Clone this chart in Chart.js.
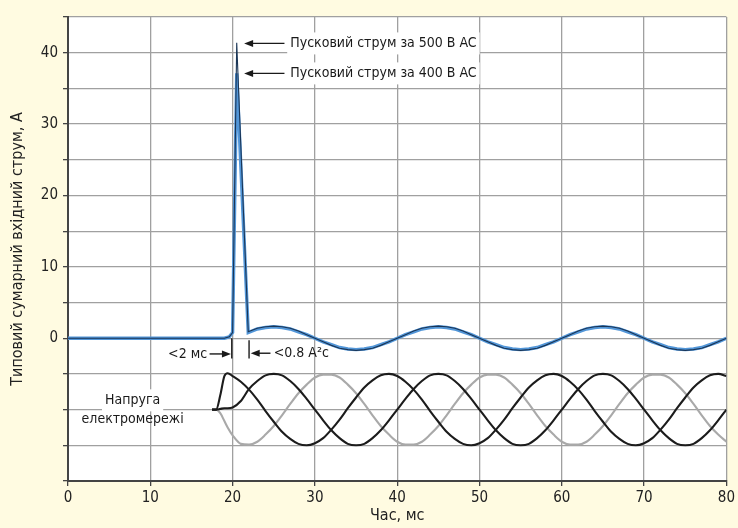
<!DOCTYPE html>
<html>
<head>
<meta charset="utf-8">
<script src="https://cdn.jsdelivr.net/npm/chart.js@4.4.0/dist/chart.umd.min.js"></script>
<style>
  html, body { margin: 0; padding: 0; background: #fffbe1; }
  canvas { display: block; }
</style>
</head>
<body>
<canvas id="inrush" width="738" height="528"></canvas>
<script>
// час, мс — для струму
var currentTime = [0, 19, 19.6, 20, 20.5, 21.9,
  23, 24, 25, 26, 27, 28, 29, 30, 31, 32, 33, 34, 35, 36, 37, 38, 39,
  40, 41, 42, 43, 44, 45, 46, 47, 48, 49, 50, 51, 52, 53, 54, 55, 56, 57, 58, 59,
  60, 61, 62, 63, 64, 65, 66, 67, 68, 69, 70, 71, 72, 73, 74, 75, 76, 77, 78, 79, 80];

// пусковий струм за 500 В AC, А
var current500 = [0, 0, 0.2, 0.8, 41.4, 0.9,
  1.4, 1.6, 1.7, 1.6, 1.4, 1.0, 0.5, 0, -0.5, -1.0, -1.4, -1.6, -1.7, -1.6, -1.4, -1.0, -0.5,
  0, 0.5, 1.0, 1.4, 1.6, 1.7, 1.6, 1.4, 1.0, 0.5, 0, -0.5, -1.0, -1.4, -1.6, -1.7, -1.6, -1.4, -1.0, -0.5,
  0, 0.5, 1.0, 1.4, 1.6, 1.7, 1.6, 1.4, 1.0, 0.5, 0, -0.5, -1.0, -1.4, -1.6, -1.7, -1.6, -1.4, -1.0, -0.5, 0];

// пусковий струм за 400 В AC, А
var current400 = [0, 0, 0.2, 0.8, 37.1, 0.8,
  1.3, 1.5, 1.6, 1.5, 1.3, 0.9, 0.5, 0, -0.5, -0.9, -1.3, -1.5, -1.6, -1.5, -1.3, -0.9, -0.5,
  0, 0.5, 0.9, 1.3, 1.5, 1.6, 1.5, 1.3, 0.9, 0.5, 0, -0.5, -0.9, -1.3, -1.5, -1.6, -1.5, -1.3, -0.9, -0.5,
  0, 0.5, 0.9, 1.3, 1.5, 1.6, 1.5, 1.3, 0.9, 0.5, 0, -0.5, -0.9, -1.3, -1.5, -1.6, -1.5, -1.3, -0.9, -0.5, 0];

// час, мс — для напруги електромережі
var voltTime = [17.5, 18, 18.5, 19, 19.4, 20,
  21, 22, 23, 24, 25, 26, 27, 28, 29, 30, 31, 32, 33, 34, 35, 36, 37, 38, 39,
  40, 41, 42, 43, 44, 45, 46, 47, 48, 49, 50, 51, 52, 53, 54, 55, 56, 57, 58, 59,
  60, 61, 62, 63, 64, 65, 66, 67, 68, 69, 70, 71, 72, 73, 74, 75, 76, 77, 78, 79, 80];

// три фази напруги (умовна шкала)
var phaseA = [-10, -10, -8.0, -5.3, -4.9, -5.3,
  -6.1, -7.2, -8.6, -10.2, -11.7, -13.1, -14.1, -14.8, -15.0, -14.7, -14.0, -12.8, -11.4, -9.8, -8.3, -6.9, -5.9, -5.2, -5.0,
  -5.3, -6.1, -7.2, -8.6, -10.2, -11.7, -13.1, -14.1, -14.8, -15.0, -14.7, -14.0, -12.8, -11.4, -9.8, -8.3, -6.9, -5.9, -5.2, -5.0,
  -5.3, -6.1, -7.2, -8.6, -10.2, -11.7, -13.1, -14.1, -14.8, -15.0, -14.7, -14.0, -12.8, -11.4, -9.8, -8.3, -6.9, -5.9, -5.2, -5.0,
  -5.3];

var phaseB = [-10, -10, -9.9, -9.8, -9.8, -9.7,
  -8.8, -7.1, -6.0, -5.2, -5.0, -5.2, -6.0, -7.1, -8.5, -10.0, -11.5, -12.9, -14.0, -14.8, -15.0, -14.8, -14.0, -12.9, -11.5,
  -10.0, -8.5, -7.1, -6.0, -5.2, -5.0, -5.2, -6.0, -7.1, -8.5, -10.0, -11.5, -12.9, -14.0, -14.8, -15.0, -14.8, -14.0, -12.9, -11.5,
  -10.0, -8.5, -7.1, -6.0, -5.2, -5.0, -5.2, -6.0, -7.1, -8.5, -10.0, -11.5, -12.9, -14.0, -14.8, -15.0, -14.8, -14.0, -12.9, -11.5,
  -10.0];

var phaseC = [-10, -10, -10.5, -11.6, -12.5, -13.6,
  -14.8, -14.9, -14.5, -13.5, -12.3, -10.8, -9.2, -7.7, -6.5, -5.5, -5.1, -5.1, -5.5, -6.5, -7.7, -9.2, -10.8, -12.3, -13.5,
  -14.5, -14.9, -14.9, -14.5, -13.5, -12.3, -10.8, -9.2, -7.7, -6.5, -5.5, -5.1, -5.1, -5.5, -6.5, -7.7, -9.2, -10.8, -12.3, -13.5,
  -14.5, -14.9, -14.9, -14.5, -13.5, -12.3, -10.8, -9.2, -7.7, -6.5, -5.5, -5.1, -5.1, -5.5, -6.5, -7.7, -9.2, -10.8, -12.3, -13.5,
  -14.5];

var yLabels = [0, 10, 20, 30, 40];

var FONT = '"Liberation Sans Narrow", "DejaVu Sans Condensed", "Roboto Condensed", "Liberation Sans", Arial, sans-serif';

function pts(xs, ys) {
  return xs.map(function (t, i) { return { x: t, y: ys[i] }; });
}

// жовтий фон і біла область графіка
var bgPlugin = {
  id: 'bg',
  beforeDraw: function (chart) {
    var c = chart.ctx, a = chart.chartArea;
    c.save();
    c.fillStyle = '#fffbe1';
    c.fillRect(0, 0, chart.width, chart.height);
    c.fillStyle = '#ffffff';
    c.fillRect(a.left, a.top, a.right - a.left, a.bottom - a.top);
    c.restore();
  }
};

function arrow(c, x1, y1, x2, y2) {
  var dir = x2 > x1 ? 1 : -1;
  c.beginPath();
  c.moveTo(x1, y1);
  c.lineTo(x2 - dir * 6, y2);
  c.stroke();
  c.beginPath();
  c.moveTo(x2, y2);
  c.lineTo(x2 - dir * 9, y2 - 3.5);
  c.lineTo(x2 - dir * 9, y2 + 3.5);
  c.closePath();
  c.fill();
}

function boxedText(c, txt, x, y, align) {
  var w = c.measureText(txt).width;
  var left = align === 'right' ? x - w : (align === 'center' ? x - w / 2 : x);
  c.fillStyle = '#ffffff';
  c.fillRect(left - 3, y - 11, w + 6, 22);
  c.fillStyle = '#1a1a1a';
  c.textAlign = align;
  c.fillText(txt, x, y);
}

// підписи та стрілки
var notesPlugin = {
  id: 'notes',
  afterDatasetsDraw: function (chart) {
    var c = chart.ctx, X = chart.scales.x, Y = chart.scales.y;
    c.save();
    c.strokeStyle = '#1a1a1a';
    c.fillStyle = '#1a1a1a';
    c.lineWidth = 1.4;
    c.font = '14px ' + FONT;
    c.textBaseline = 'middle';

    boxedText(c, 'Пусковий струм за 500 В AC', X.getPixelForValue(27.0), Y.getPixelForValue(41.3), 'left');
    boxedText(c, 'Пусковий струм за 400 В AC', X.getPixelForValue(27.0), Y.getPixelForValue(37.1), 'left');
    c.fillStyle = '#1a1a1a';
    arrow(c, X.getPixelForValue(26.3), Y.getPixelForValue(41.3), X.getPixelForValue(21.4), Y.getPixelForValue(41.3));
    arrow(c, X.getPixelForValue(26.3), Y.getPixelForValue(37.1), X.getPixelForValue(21.4), Y.getPixelForValue(37.1));

    // < 2 мс
    c.beginPath();
    c.moveTo(X.getPixelForValue(19.9), Y.getPixelForValue(0));
    c.lineTo(X.getPixelForValue(19.9), Y.getPixelForValue(-2.85));
    c.stroke();
    arrow(c, X.getPixelForValue(17.2), Y.getPixelForValue(-2.2), X.getPixelForValue(19.8), Y.getPixelForValue(-2.2));
    c.textAlign = 'right';
    c.fillText('<2 мс', X.getPixelForValue(16.9), Y.getPixelForValue(-2.2));

    // < 0.8 A²c
    c.beginPath();
    c.moveTo(X.getPixelForValue(22.0), Y.getPixelForValue(-0.3));
    c.lineTo(X.getPixelForValue(22.0), Y.getPixelForValue(-2.85));
    c.stroke();
    arrow(c, X.getPixelForValue(24.6), Y.getPixelForValue(-2.1), X.getPixelForValue(22.2), Y.getPixelForValue(-2.1));
    c.textAlign = 'left';
    c.fillText('<0.8 A²c', X.getPixelForValue(25.0), Y.getPixelForValue(-2.1));

    // Напруга електромережі
    boxedText(c, 'Напруга', X.getPixelForValue(7.85), Y.getPixelForValue(-8.7), 'center');
    c.fillStyle = '#1a1a1a';
    c.textAlign = 'center';
    c.fillText('електромережі', X.getPixelForValue(7.85), Y.getPixelForValue(-11.3));
    c.restore();
  }
};

var ctx = document.getElementById("inrush");
var chart = new Chart(ctx, {
  type: 'line',
  data: {
    datasets: [
      { label: '500 В AC', data: pts(currentTime, current500), borderColor: '#1a3556', borderWidth: 1.1, pointRadius: 0, tension: 0 },
      { label: '400 В AC', data: pts(currentTime, current400), borderColor: '#5296d8', borderWidth: 3.4, pointRadius: 0, tension: 0 },
      { label: 'L1', data: pts(voltTime, phaseA), borderColor: '#1c1c1c', borderWidth: 2.1, pointRadius: 0, cubicInterpolationMode: 'monotone' },
      { label: 'L2', data: pts(voltTime, phaseB), borderColor: '#1c1c1c', borderWidth: 2.1, pointRadius: 0, cubicInterpolationMode: 'monotone' },
      { label: 'L3', data: pts(voltTime, phaseC), borderColor: '#a9a9a9', borderWidth: 2.1, pointRadius: 0, cubicInterpolationMode: 'monotone' }
    ]
  },
  options: {
    responsive: false,
    animation: false,
    layout: { padding: { top: 17, right: 8, left: 0, bottom: 0 } },
    plugins: {
      legend: { display: false },
      tooltip: { enabled: false }
    },
    scales: {
      x: {
        type: 'linear', min: 0, max: 80,
        ticks: { stepSize: 10, color: '#222', font: { family: FONT, size: 15 }, padding: 3, maxRotation: 0 },
        grid: { color: '#a0a0a0', lineWidth: 1.3, tickColor: '#444', tickLength: 5 },
        border: { color: '#444', width: 2 },
        title: { display: true, text: 'Час, мс', color: '#222', font: { family: FONT, size: 16 }, padding: { top: 0, bottom: 3 } },
        afterFit: function (s) { s.height = 47; }
      },
      y: {
        min: -20, max: 45,
        ticks: {
          stepSize: 5, color: '#222', font: { family: FONT, size: 15 }, padding: 5,
          callback: function (v) { return yLabels.indexOf(v) >= 0 ? v : ''; }
        },
        grid: { color: '#a0a0a0', lineWidth: 1.3, tickColor: '#444', tickLength: 5 },
        border: { color: '#444', width: 2 },
        title: { display: true, text: 'Типовий сумарний вхідний струм, А', color: '#222', font: { family: FONT, size: 16 }, padding: { top: 8, bottom: 0 } },
        afterFit: function (s) { s.width = 68; }
      }
    }
  },
  plugins: [bgPlugin, notesPlugin]
});
</script>
</body>
</html>
